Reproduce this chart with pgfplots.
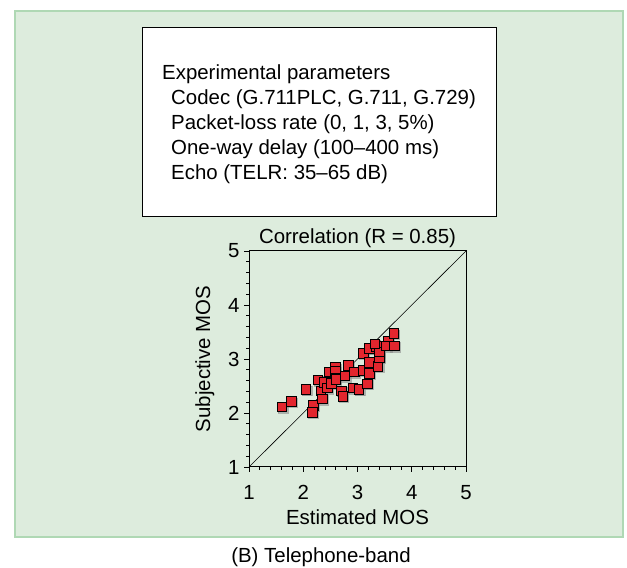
\documentclass[border=0pt]{standalone}
\usepackage{fontspec}
\setmainfont{Liberation Sans}
\usepackage{pgfplots}
\pgfplotsset{compat=1.18}
\definecolor{panelbg}{RGB}{221,236,221}
\definecolor{panelborder}{RGB}{175,216,180}
\definecolor{sqred}{RGB}{226,38,46}
\begin{document}
\begin{tikzpicture}[x=1bp,y=1bp]
\fill[white] (0,0) rectangle (627,568);
\filldraw[fill=panelbg,draw=panelborder,line width=1.2bp] (15,31) rectangle (623,557);
\filldraw[fill=white,draw=black,line width=0.9bp] (142,352) rectangle (496,541);
\begin{scope}[every node/.style={anchor=base west,inner sep=0pt,font=\fontsize{20.5}{24}\selectfont}]
\node at (162,488) {Experimental parameters};
\node at (171,463) {Codec (G.711PLC, G.711, G.729)};
\node at (171,438) {Packet-loss rate (0, 1, 3, 5\%)};
\node at (171,413) {One-way delay (100--400 ms)};
\node at (171,388) {Echo (TELR: 35--65 dB)};
\end{scope}
\node[anchor=base,inner sep=0pt,font=\fontsize{20.5}{24}\selectfont] at (321,5) {(B) Telephone-band};
\begin{axis}[
  at={(249bp,101bp)}, anchor=south west,
  width=217bp, height=216bp, scale only axis,
  xmin=1, xmax=5, ymin=1, ymax=5,
  xtick={1,2,3,4,5}, ytick={1,2,3,4,5},
  minor tick num=4,
  tick align=outside,
  xtick pos=bottom, ytick pos=left,
  major tick length=5bp, minor tick length=3bp,
  axis line style={line width=1bp},
  every tick/.style={black,line width=0.8bp},
  /pgf/number format/assume math mode=true,
  tick label style={font=\fontsize{20.5}{24}\selectfont},
  xticklabel style={anchor=base,yshift=-27.5bp},
  yticklabel style={anchor=east,xshift=-1bp},
  title={Correlation (R = 0.85)},
  title style={at={(axis description cs:0.5,1)},anchor=base,yshift=2bp,inner sep=0pt,font=\fontsize{20.5}{24}\selectfont},
  xlabel={Estimated MOS},
  xlabel style={at={(axis description cs:0.5,-0.2685)},anchor=base,inner sep=0pt,font=\fontsize{20.5}{24}\selectfont},
  ylabel={Subjective MOS},
  ylabel style={at={(axis description cs:-0.203,0.5)},anchor=center,inner sep=0pt,font=\fontsize{20.5}{24}\selectfont},
  clip=false,
]
\addplot[only marks, mark=square*, mark size=4.8bp, draw=none, mark options={fill=black!45,draw=black!45,opacity=0.6,xshift=1bp,yshift=-1bp}] table {
x y
1.61 2.11
1.78 2.21
2.05 2.43
2.19 2.14
2.17 2.01
2.27 2.61
2.33 2.41
2.35 2.26
2.39 2.56
2.45 2.46
2.48 2.76
2.59 2.84
2.59 2.77
2.59 2.65
2.77 2.685
2.83 2.88
2.70 2.41
2.73 2.31
2.92 2.46
3.03 2.43
2.94 2.76
3.11 2.79
3.11 3.10
3.18 2.54
3.22 2.735
3.22 2.93
3.22 3.19
3.35 3.235
3.38 2.86
3.41 3.03
3.41 3.13
3.57 3.33
3.53 3.24
3.67 3.47
3.68 3.24
3.32 3.28
2.52 2.55
2.60 2.62
};
\addplot[only marks, mark=square*, mark size=4.8bp, mark options={fill=sqred,draw=black,line width=1bp}] table {
x y
1.61 2.11
1.78 2.21
2.05 2.43
2.19 2.14
2.17 2.01
2.27 2.61
2.33 2.41
2.35 2.26
2.39 2.56
2.45 2.46
2.48 2.76
2.59 2.84
2.59 2.77
2.59 2.65
2.77 2.685
2.83 2.88
2.70 2.41
2.73 2.31
2.92 2.46
3.03 2.43
2.94 2.76
3.11 2.79
3.11 3.10
3.18 2.54
3.22 2.735
3.22 2.93
3.22 3.19
3.35 3.235
3.38 2.86
3.41 3.03
3.41 3.13
3.57 3.33
3.53 3.24
3.67 3.47
3.68 3.24
3.32 3.28
2.52 2.55
2.60 2.62
};
\addplot[black, line width=0.6bp] coordinates {(1,1) (5,5)};
\end{axis}
\end{tikzpicture}
\end{document}
